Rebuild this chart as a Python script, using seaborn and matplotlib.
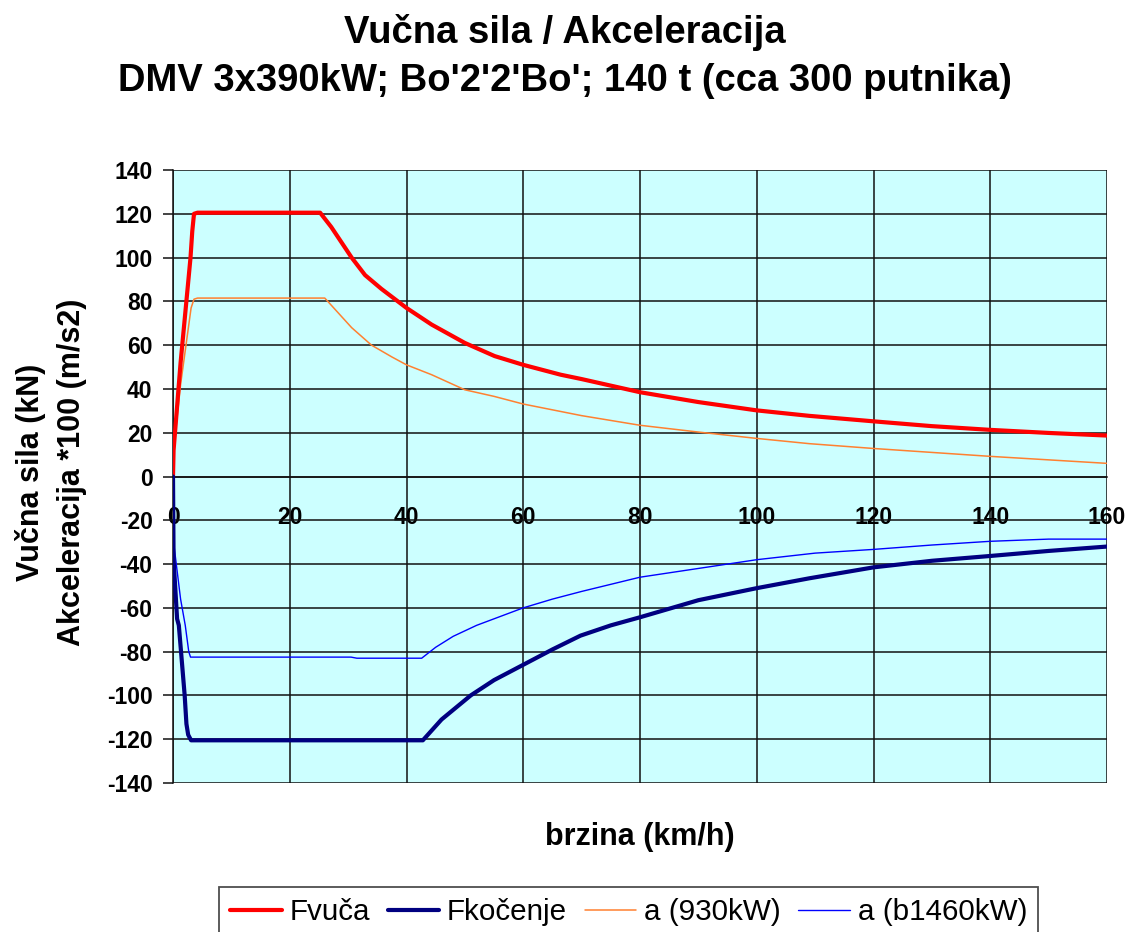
import matplotlib
matplotlib.use("Agg")
import matplotlib.pyplot as plt
import seaborn as sns

# ---- data ----
speed_fvuca = [0, 0.1, 1.3, 3.0, 3.3, 3.6, 4.2, 25.2, 27.1, 30.6, 32.9, 35.7, 40, 44.3, 50, 55.1, 60,
               66.4, 70, 80, 90, 100, 109, 120, 130, 140, 150, 160]
fvuca = [0, 12, 52, 100, 112, 120, 120.5, 120.5, 114, 100, 92, 85.7, 77, 69.4, 61, 55, 51,
         46.5, 44.5, 38.5, 34, 30.2, 27.7, 25.2, 23, 21.3, 19.9, 18.7]

speed_fkocenje = [0, 0.1, 0.7, 1.0, 2.0, 2.3, 2.6, 3.1, 42.8, 46, 51, 55, 60, 65, 69.8, 75, 80,
                  90, 100, 109, 120, 130, 140, 150, 160]
fkocenje = [0, -38, -65, -68, -100, -113, -118, -120.5, -120.5, -111, -100, -93, -86, -79, -72.7, -68,
            -64.3, -56.5, -51, -46.5, -41.5, -38.5, -36.3, -34, -32]

speed_a930 = [0, 0.1, 1.3, 3.1, 3.6, 4.2, 26, 30.6, 34, 37.5, 40, 44.3, 50, 55, 60, 70, 80, 90,
              100, 109, 120, 130, 140, 150, 160]
a930 = [0, 12, 42, 77, 81, 81.5, 81.5, 68, 60, 54.6, 51, 46.5, 39.6, 36.6, 33.1, 27.8, 23.4, 20.3,
        17.4, 15, 12.8, 11, 9.2, 7.6, 6]

speed_a1460 = [0, 0.1, 1.3, 2.1, 2.7, 3.0, 30.5, 31.5, 42.6, 45, 48, 52, 56, 60, 65, 70, 80, 90,
               100, 110, 120, 130, 140, 150, 160]
a1460 = [0, -30, -56, -68, -80, -82.5, -82.5, -83, -83, -78, -73, -68, -64, -60, -56, -52.5, -46, -42,
         -38, -35, -33.3, -31.3, -29.6, -28.6, -28.6]

series_labels = ["Fvuča", "Fkočenje", "a (930kW)", "a (b1460kW)"]
title_lines = ["Vučna sila / Akceleracija", "DMV 3x390kW; Bo'2'2'Bo'; 140 t (cca 300 putnika)"]
x_label = "brzina (km/h)"
y_label = "Vučna sila (kN)\nAkceleracija *100 (m/s2)"
x_ticks = [0, 20, 40, 60, 80, 100, 120, 140, 160]
y_ticks = [-140, -120, -100, -80, -60, -40, -20, 0, 20, 40, 60, 80, 100, 120, 140]

# ---- style ----
sns.set_style("ticks")
plt.rcParams['font.family'] = ['Liberation Sans', 'DejaVu Sans']
plt.rcParams['axes.unicode_minus'] = False
plt.rcParams['text.color'] = 'black'
plt.rcParams['axes.labelcolor'] = 'black'
plt.rcParams['xtick.color'] = 'black'
plt.rcParams['ytick.color'] = 'black'

W, H = 1135, 932
fig = plt.figure(figsize=(W / 100, H / 100), dpi=100)
fig.patch.set_facecolor("white")
L, R, T, B = 173, 1107, 170, 783
ax = fig.add_axes([L / W, 1 - B / H, (R - L) / W, (B - T) / H])
ax.set_facecolor("#CCFFFF")

sns.lineplot(x=speed_fvuca, y=fvuca, ax=ax, color="#FF0000", linewidth=3.0,
             label=series_labels[0], estimator=None, sort=False, zorder=4)
sns.lineplot(x=speed_fkocenje, y=fkocenje, ax=ax, color="#000080", linewidth=3.0,
             label=series_labels[1], estimator=None, sort=False, zorder=4)
sns.lineplot(x=speed_a930, y=a930, ax=ax, color="#FF8030", linewidth=1.1,
             label=series_labels[2], estimator=None, sort=False, zorder=3)
sns.lineplot(x=speed_a1460, y=a1460, ax=ax, color="#0000FF", linewidth=1.0,
             label=series_labels[3], estimator=None, sort=False, zorder=3)

ax.set_xlim(0, 160)
ax.set_ylim(-140, 140)
ax.set_xticks(x_ticks)
ax.set_yticks(y_ticks)
ax.grid(True, color="#111111", linewidth=1.1, zorder=1)
ax.set_axisbelow(True)

for s in ["top", "right"]:
    ax.spines[s].set_visible(False)
ax.spines["bottom"].set_position(("data", 0))
ax.spines["bottom"].set_color("#111111")
ax.spines["bottom"].set_linewidth(1.1)
ax.spines["left"].set_color("#111111")
ax.spines["left"].set_linewidth(1.1)

ax.tick_params(axis="y", direction="out", length=7.2, width=1.1, color="#111111", pad=7.5,
               labelsize=16.5)
ax.tick_params(axis="x", length=0, pad=21, labelsize=16.5)
for lab in ax.get_xticklabels() + ax.get_yticklabels():
    lab.set_fontweight("bold")

ax.set_xlabel(x_label, fontsize=22, fontweight="bold")
ax.xaxis.set_label_coords(0.5, -(822 - B) / (B - T))
ax.set_ylabel(y_label, fontsize=22, fontweight="bold", linespacing=1.44, va="center")
ax.yaxis.set_label_coords((51 - L) / (R - L), 0.507)

fig.text(565 / W, 1 - 43 / H, title_lines[0], ha="center", va="baseline",
         fontsize=27.5, fontweight="bold")
fig.text(565 / W, 1 - 91 / H, title_lines[1], ha="center", va="baseline",
         fontsize=27.5, fontweight="bold")

leg = ax.legend(loc="upper left", bbox_to_anchor=(219 / W, 1 - 887 / H),
                bbox_transform=fig.transFigure, ncol=4, frameon=True, fancybox=False,
                fontsize=21.3, handlelength=1.75, handletextpad=0.25, columnspacing=0.6,
                borderpad=0.38, borderaxespad=0)
leg.get_frame().set_edgecolor("#222222")
leg.get_frame().set_linewidth(1.3)
leg.get_frame().set_facecolor("white")

fig.savefig("out.png", dpi=100)
